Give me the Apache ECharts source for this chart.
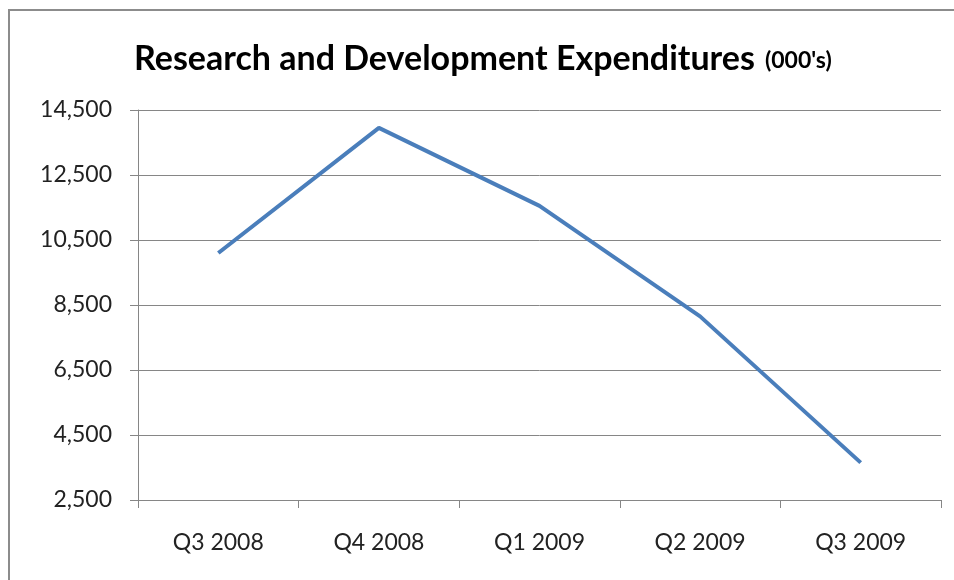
<!DOCTYPE html>
<html>
<head>
<meta charset="utf-8">
<script src="https://cdn.jsdelivr.net/npm/echarts@6/dist/echarts.min.js"></script>
<style>
  html, body { margin: 0; padding: 0; background: #fff; }
  #chart { width: 954px; height: 580px; }
</style>
</head>
<body>
<div id="chart"></div>
<script>
const quarters = ['Q3 2008', 'Q4 2008', 'Q1 2009', 'Q2 2009', 'Q3 2009'];
const expenditures = [10100, 13950, 11550, 8150, 3650];
const yTicks = [2500, 4500, 6500, 8500, 10500, 12500, 14500];

const chart = echarts.init(document.getElementById('chart'));

const option = {
  backgroundColor: '#fff',
  animation: false,
  title: {
    text: '{main|Research and Development Expenditures}{unit|(000\'s)}',
    left: 129,
    top: 35,
    textStyle: {
      rich: {
        main: { fontFamily: 'Lato', fontSize: 34, fontWeight: 'bold', color: '#000', lineHeight: 38 },
        unit: { fontFamily: 'Lato', fontSize: 23, fontWeight: 'bold', color: '#000', lineHeight: 38, padding: [4, 0, 0, 10] }
      }
    }
  },
  graphic: [{
    type: 'rect',
    shape: { x: 9, y: 10, width: 1000, height: 600 },
    style: { fill: 'none', stroke: '#8c8c8c', lineWidth: 2 },
    silent: true
  }],
  grid: { left: 138, right: 13, top: 110, bottom: 80 },
  xAxis: {
    type: 'category',
    data: quarters,
    boundaryGap: true,
    axisLine: { lineStyle: { color: '#868686', width: 1 } },
    axisTick: { show: true, length: 8, interval: 0, lineStyle: { color: '#868686' } },
    axisLabel: { fontFamily: 'Lato', fontSize: 23, color: '#222', margin: 31 }
  },
  yAxis: {
    type: 'value',
    min: yTicks[0],
    max: yTicks[yTicks.length - 1],
    interval: 2000,
    axisLine: { show: true, lineStyle: { color: '#868686', width: 1 } },
    axisTick: { show: true, length: 8, lineStyle: { color: '#868686' } },
    splitLine: { lineStyle: { color: '#868686', width: 1 } },
    axisLabel: {
      fontFamily: 'Lato', fontSize: 23, color: '#222', margin: 26,
      formatter: v => v.toLocaleString('en-US')
    }
  },
  series: [{
    type: 'line',
    data: expenditures,
    symbol: 'none',
    lineStyle: { color: '#4a7ebb', width: 4 }
  }]
};

chart.setOption(option);
</script>
</body>
</html>
